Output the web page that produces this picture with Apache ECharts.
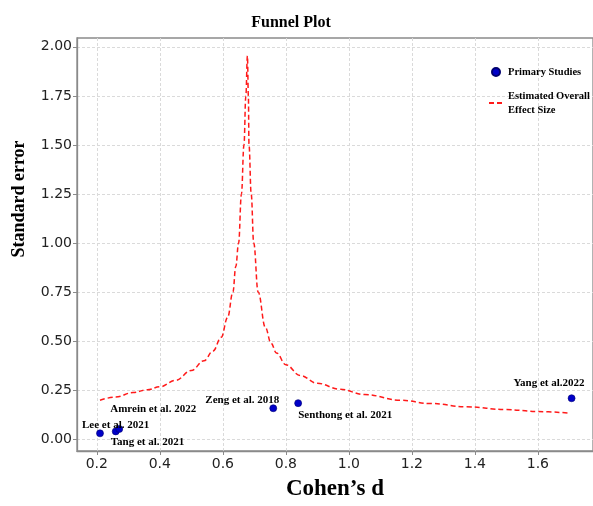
<!DOCTYPE html>
<html>
<head>
<meta charset="utf-8">
<script src="https://cdn.jsdelivr.net/npm/echarts@6/dist/echarts.min.js"></script>
<style>
html,body{margin:0;padding:0;background:#fff;}
#chart{width:593px;height:506px;}
</style>
</head>
<body>
<div id="chart"></div>
<script>
// ---- data ----
const studyNames = ['Lee et al. 2021', 'Tang et al. 2021', 'Amrein et al. 2022', 'Zeng et al. 2018', 'Senthong et al. 2021', 'Yang et al.2022'];
const studyD  = [0.21, 0.26, 0.271, 0.76, 0.839, 1.707];
const studySE = [0.03, 0.04, 0.052, 0.158, 0.184, 0.209];

const funnelD  = [0.21, 0.26, 0.315, 0.36, 0.40, 0.45, 0.50, 0.54, 0.569, 0.595, 0.615, 0.632, 0.641, 0.650, 0.659, 0.667, 0.673, 0.678,
                  0.681, 0.683, 0.690, 0.698, 0.712, 0.735, 0.753, 0.770, 0.80, 0.845, 0.90, 0.971, 1.05, 1.162, 1.26, 1.374, 1.50, 1.60, 1.702];
const funnelSE = [0.199, 0.215, 0.238, 0.252, 0.267, 0.300, 0.350, 0.400, 0.450, 0.52, 0.62, 0.75, 0.88, 1.0, 1.25, 1.5, 1.75, 1.954,
                  1.75, 1.5, 1.25, 1.0, 0.75, 0.57, 0.49, 0.44, 0.38, 0.325, 0.285, 0.255, 0.228, 0.199, 0.182, 0.165, 0.151, 0.141, 0.133];

const xTicks = [0.2, 0.4, 0.6, 0.8, 1.0, 1.2, 1.4, 1.6];
const yTicks = [0, 0.25, 0.5, 0.75, 1.0, 1.25, 1.5, 1.75, 2.0];

// label placement per study (style only)
const labelPlace = [
  {align: 'left',  offset: [-18, -8]},
  {align: 'left',  offset: [-5, 11]},
  {align: 'left',  offset: [-9, -20]},
  {align: 'right', offset: [6, -8]},
  {align: 'left',  offset: [0, 12]},
  {align: 'right', offset: [13, -15]}
];

const serif = '"Liberation Serif", "DejaVu Serif", serif';
const sans = '"DejaVu Sans", sans-serif';

const scatterData = studyNames.map((n, i) => ({
  name: n,
  value: [studyD[i], studySE[i]],
  label: {
    show: true,
    formatter: n,
    position: 'inside',
    align: labelPlace[i].align,
    verticalAlign: 'middle',
    offset: labelPlace[i].offset,
    fontFamily: serif,
    fontWeight: 'bold',
    fontSize: 11,
    color: '#000',
    textBorderWidth: 0
  }
}));

const lineData = funnelD.map((d, i) => [d, funnelSE[i]]);

const chart = echarts.init(document.getElementById('chart'), null, {renderer: 'canvas'});
chart.setOption({
  animation: false,
  backgroundColor: '#fff',
  title: {
    text: 'Funnel Plot',
    left: 286,
    textAlign: 'center',
    top: 10,
    textStyle: {fontFamily: serif, fontWeight: 'bold', fontSize: 16, color: '#000'}
  },
  grid: {
    left: 77, top: 38, right: 0, bottom: 52,
    show: true, borderColor: '#8a8a8a', borderWidth: 1.3, backgroundColor: 'transparent'
  },
  legend: {
    orient: 'vertical',
    left: 483,
    top: 60,
    itemWidth: 14,
    itemHeight: 8,
    itemGap: 10,
    textStyle: {fontFamily: serif, fontWeight: 'bold', fontSize: 10.5, color: '#000', lineHeight: 14},
    formatter: function (name) {
      return name === 'Estimated Overall Effect Size' ? 'Estimated Overall\nEffect Size' : name;
    },
    data: [
      {name: 'Primary Studies', icon: 'circle'},
      {name: 'Estimated Overall Effect Size', itemStyle: {opacity: 0}}
    ]
  },
  xAxis: {
    type: 'value',
    min: 0.137,
    max: 1.775,
    name: 'Cohen’s d',
    nameLocation: 'middle',
    nameGap: 27,
    nameTextStyle: {fontFamily: serif, fontWeight: 'bold', fontSize: 23, color: '#000'},
    axisLine: {show: true, onZero: false, lineStyle: {color: '#8a8a8a', width: 1.3}},
    axisTick: {show: true, length: 4, customValues: xTicks, lineStyle: {color: '#8a8a8a'}},
    axisLabel: {customValues: xTicks, formatter: v => v.toFixed(1), fontFamily: sans, fontSize: 14, color: '#222', margin: 6},
    splitLine: {show: true, lineStyle: {color: '#dadada', type: [3, 2], width: 1}}
  },
  yAxis: {
    type: 'value',
    min: -0.06,
    max: 2.045,
    axisLine: {show: true, onZero: false, lineStyle: {color: '#8a8a8a', width: 1.3}},
    axisTick: {show: true, length: 4, customValues: yTicks, lineStyle: {color: '#8a8a8a'}},
    axisLabel: {customValues: yTicks, formatter: v => v.toFixed(2), fontFamily: sans, fontSize: 14, color: '#222', margin: 5},
    splitLine: {show: true, lineStyle: {color: '#dadada', type: [3, 2], width: 1}}
  },
  graphic: [{
    type: 'text',
    x: 19,
    y: 199,
    rotation: Math.PI / 2,
    style: {
      text: 'Standard error',
      font: 'bold 18px "Liberation Serif", "DejaVu Serif", serif',
      fill: '#000',
      textAlign: 'center',
      textVerticalAlign: 'middle'
    }
  }],
  series: [
    {
      name: 'Estimated Overall Effect Size',
      type: 'line',
      data: lineData,
      showSymbol: false,
      symbol: 'none',
      smooth: 0.4,
      smoothMonotone: 'x',
      lineStyle: {color: '#ff1a1a', width: 1.5, type: [5, 3]},
      itemStyle: {color: '#ff1a1a'},
      z: 2
    },
    {
      name: 'Primary Studies',
      type: 'scatter',
      data: scatterData,
      symbol: 'circle',
      symbolSize: 7,
      itemStyle: {color: '#0000c8', borderColor: '#000070', borderWidth: 0.6, opacity: 1},
      z: 3
    }
  ]
});
</script>
</body>
</html>
